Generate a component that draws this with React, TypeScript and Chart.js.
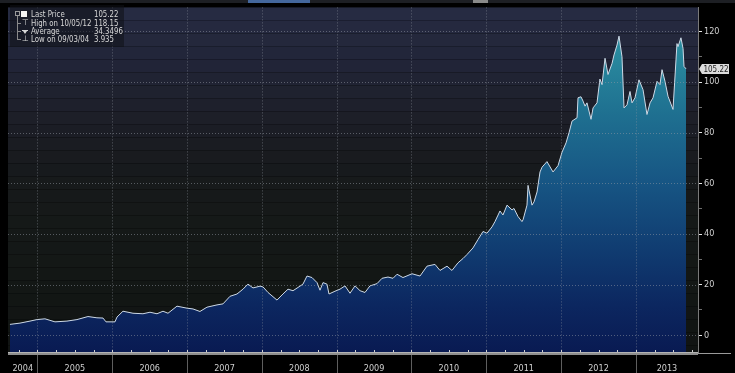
import { useEffect, useRef } from 'react';
import { Chart, registerables } from 'chart.js';

Chart.register(...registerables);

// ---- data (time in decimal years, price) ----
const times = [
  2004.632, 2004.766, 2004.900, 2004.993, 2005.100, 2005.167, 2005.234, 2005.394, 2005.528, 2005.675,
  2005.795, 2005.876, 2005.916, 2006.036, 2006.063, 2006.143, 2006.277, 2006.410, 2006.504, 2006.598,
  2006.678, 2006.745, 2006.865, 2006.999, 2007.079, 2007.172, 2007.266, 2007.400, 2007.480, 2007.574,
  2007.667, 2007.747, 2007.814, 2007.881, 2007.975, 2008.015, 2008.082, 2008.202, 2008.282, 2008.349,
  2008.416, 2008.483, 2008.549, 2008.603, 2008.670, 2008.737, 2008.777, 2008.817, 2008.870, 2008.897,
  2008.977, 2009.044, 2009.111, 2009.178, 2009.245, 2009.312, 2009.378, 2009.445, 2009.539, 2009.606,
  2009.686, 2009.753, 2009.807, 2009.886, 2010.007, 2010.114, 2010.207, 2010.314, 2010.381, 2010.475,
  2010.541, 2010.621, 2010.688, 2010.742, 2010.822, 2010.889, 2010.956, 2011.009, 2011.076, 2011.116,
  2011.183, 2011.223, 2011.277, 2011.344, 2011.370, 2011.424, 2011.477, 2011.491, 2011.544, 2011.558,
  2011.611, 2011.638, 2011.678, 2011.718, 2011.745, 2011.811, 2011.892, 2011.959, 2012.012, 2012.066,
  2012.106, 2012.146, 2012.213, 2012.226, 2012.266, 2012.293, 2012.320, 2012.346, 2012.400, 2012.427,
  2012.480, 2012.519, 2012.547, 2012.587, 2012.627, 2012.681, 2012.707, 2012.747, 2012.774, 2012.814,
  2012.841, 2012.881, 2012.921, 2012.948, 2012.988, 2013.041, 2013.095, 2013.148, 2013.189, 2013.229,
  2013.282, 2013.322, 2013.349, 2013.389, 2013.429, 2013.496, 2013.549, 2013.563, 2013.602, 2013.630,
  2013.643, 2013.670,
];
const prices = [
  4.3, 4.8, 5.6, 6.2, 6.5, 5.9, 5.3, 5.6, 6.2, 7.4,
  6.9, 6.8, 5.3, 5.3, 7.2, 9.5, 8.7, 8.5, 9.1, 8.5,
  9.5, 8.7, 11.5, 10.7, 10.4, 9.4, 11.1, 12.0, 12.4, 15.4,
  16.3, 18.2, 20.2, 18.7, 19.4, 19.1, 16.9, 13.9, 16.3, 18.2,
  17.6, 18.9, 20.2, 23.4, 22.8, 20.8, 17.8, 20.8, 20.2, 16.3,
  17.4, 18.2, 19.5, 16.6, 19.5, 17.6, 16.9, 19.5, 20.4, 22.5,
  23.0, 22.5, 24.1, 22.8, 24.3, 23.4, 27.3, 28.0, 25.6, 27.3,
  25.6, 28.6, 30.3, 31.9, 34.5, 37.8, 41.0, 40.3, 42.8, 44.9,
  49.1, 47.5, 51.4, 49.5, 50.1, 46.9, 44.9, 45.6, 51.4, 59.2,
  51.4, 52.7, 56.6, 64.5, 66.4, 68.6, 64.5, 67.0, 72.3, 76.0,
  80.0, 84.6, 85.9, 93.8, 94.2, 92.5, 90.5, 91.8, 85.3, 89.8,
  91.8, 101.2, 99.0, 109.4, 103.0, 107.4, 110.7, 114.6, 118.15, 110.0,
  89.8, 91.0, 96.3, 91.8, 93.8, 100.9, 97.0, 87.2, 91.8, 93.8,
  100.3, 99.0, 104.9, 100.3, 94.4, 89.2, 115.2, 114.0, 117.5, 113.3,
  106.2, 105.22,
];
const yearLabels = ['2004', '2005', '2006', '2007', '2008', '2009', '2010', '2011', '2012', '2013'];
const yTickValues = [0, 10, 20, 30, 40, 50, 60, 70, 80, 90, 100, 110, 120];
const gridValues = [0, 20, 40, 60, 80, 100, 120];
const legendLabels = ['Last Price', 'High on 10/05/12', 'Average', 'Low on 09/03/04'];
const legendValues = ['105.22', '118.15', '34.3496', '3.935'];
const lastPrice = 105.22;

const X_MIN = 2004.606;
const X_MAX = 2013.83;
const Y_MIN = -7;
const Y_MAX = 129.5;
const FIRST_YEAR = parseInt(yearLabels[0], 10);

const FONT = "'DejaVu Sans Condensed', 'DejaVu Sans', sans-serif";

const bgStops: [number, number[]][] = [
  [0, [38, 43, 66]],
  [0.16, [33, 36, 54]],
  [0.32, [28, 30, 38]],
  [0.46, [23, 26, 28]],
  [0.7, [20, 24, 22]],
  [1, [16, 19, 18]],
];
function bgAt(t: number) {
  for (let i = 1; i < bgStops.length; i++) {
    if (t <= bgStops[i][0]) {
      const [t0, c0] = bgStops[i - 1];
      const [t1, c1] = bgStops[i];
      const f = (t - t0) / (t1 - t0);
      return c0.map((v, k) => Math.round(v + (c1[k] - v) * f));
    }
  }
  return bgStops[bgStops.length - 1][1];
}

const backgroundPlugin = {
  id: 'bg',
  beforeDraw(chart: any) {
    const { ctx, chartArea: a, width, height } = chart;
    ctx.save();
    ctx.fillStyle = '#000';
    ctx.fillRect(0, 0, width, height);
    const band = 13;
    for (let y = a.top; y < a.bottom; y += band) {
      const t = (y - a.top) / (a.bottom - a.top);
      const c = bgAt(t);
      ctx.fillStyle = `rgb(${c[0]},${c[1]},${c[2]})`;
      ctx.fillRect(a.left, y, a.right - a.left, Math.min(band, a.bottom - y));
    }
    ctx.restore();
  },
};

const gridPlugin = {
  id: 'dottedGrid',
  afterDatasetsDraw(chart: any) {
    const { ctx, chartArea: a, scales } = chart;
    const xs = scales.x;
    const ys = scales.y;
    ctx.save();
    ctx.setLineDash([1, 2]);
    ctx.lineWidth = 1;
    ctx.strokeStyle = 'rgba(150,155,165,0.5)';
    gridValues.forEach((v) => {
      const y = Math.round(ys.getPixelForValue(v)) + 0.5;
      ctx.beginPath();
      ctx.moveTo(a.left, y);
      ctx.lineTo(a.right, y);
      ctx.stroke();
    });
    for (let i = 1; i < yearLabels.length; i++) {
      const x = Math.round(xs.getPixelForValue(FIRST_YEAR + i)) + 0.5;
      ctx.beginPath();
      ctx.moveTo(x, a.top);
      ctx.lineTo(x, a.bottom);
      ctx.stroke();
    }
    ctx.restore();
  },
};

const axisPlugin = {
  id: 'axisDeco',
  afterDraw(chart: any) {
    const { ctx, chartArea: a, scales, width, height } = chart;
    const xs = scales.x;
    const ys = scales.y;
    ctx.save();
    // year separators below the axis
    ctx.fillStyle = '#5e5e5e';
    for (let i = 1; i < yearLabels.length; i++) {
      const x = Math.round(xs.getPixelForValue(FIRST_YEAR + i));
      ctx.fillRect(x, a.bottom, 1, height - a.bottom);
    }
    // thick x axis line
    ctx.fillStyle = '#8e8e8e';
    ctx.fillRect(a.left, a.bottom - 1, a.right - a.left, 3);
    ctx.fillStyle = '#b4b4b4';
    ctx.fillRect(a.left, a.bottom - 1, a.right - a.left, 1);
    ctx.fillStyle = '#9a9a9a';
    ctx.fillRect(a.right, a.bottom, width - a.right - 4, 1);
    // quarter ticks
    ctx.fillStyle = '#d0d0d0';
    for (let yr = FIRST_YEAR; yr <= FIRST_YEAR + yearLabels.length; yr++) {
      for (let q = 0; q < 4; q++) {
        const v = yr + q / 4;
        if (v < X_MIN || v > X_MAX) continue;
        const x = Math.round(xs.getPixelForValue(v));
        ctx.fillRect(x, a.bottom - 3, 1, 2);
      }
    }
    // last price tag
    const py = Math.round(ys.getPixelForValue(lastPrice));
    ctx.fillStyle = '#dcdcdc';
    ctx.beginPath();
    ctx.moveTo(a.right + 1, py);
    ctx.lineTo(a.right + 4, py - 5);
    ctx.lineTo(a.right + 31, py - 5);
    ctx.lineTo(a.right + 31, py + 5);
    ctx.lineTo(a.right + 4, py + 5);
    ctx.closePath();
    ctx.fill();
    ctx.fillStyle = '#1a1a1a';
    ctx.font = `8px ${FONT}`;
    ctx.textAlign = 'center';
    ctx.textBaseline = 'middle';
    ctx.fillText(String(lastPrice), a.right + 18, py + 0.5);
    ctx.restore();
  },
};

export default function App() {
  const canvasRef = useRef<HTMLCanvasElement | null>(null);

  useEffect(() => {
    document.body.style.margin = '0';
    document.body.style.background = '#000';
    const canvas = canvasRef.current;
    if (!canvas) return;
    const points = times.map((t, i) => ({ x: t, y: prices[i] }));
    const chart = new Chart(canvas, {
      type: 'line',
      data: {
        datasets: [
          {
            data: points,
            borderColor: '#cdd9e6',
            borderWidth: 1,
            pointRadius: 0,
            tension: 0,
            fill: 'start',
            backgroundColor: (c: any) => {
              const a = c.chart.chartArea;
              if (!a) return 'rgba(0,0,0,0)';
              const g = c.chart.ctx.createLinearGradient(0, a.top, 0, a.bottom);
              g.addColorStop(0, '#3199a8');
              g.addColorStop(0.12, '#2a8b9f');
              g.addColorStop(0.3, '#1f7191');
              g.addColorStop(0.5, '#175684');
              g.addColorStop(0.7, '#103c71');
              g.addColorStop(0.86, '#0c2760');
              g.addColorStop(1, '#091a52');
              return g;
            },
          },
        ],
      },
      options: {
        responsive: false,
        maintainAspectRatio: false,
        animation: false,
        devicePixelRatio: 1,
        layout: { padding: { left: 8, top: 3, right: 0, bottom: 0 } },
        plugins: { legend: { display: false }, tooltip: { enabled: false } },
        scales: {
          x: {
            type: 'linear',
            min: X_MIN,
            max: X_MAX,
            afterBuildTicks: (s: any) => {
              s.ticks = yearLabels.map((_, i) => {
                const y0 = Math.max(X_MIN, FIRST_YEAR + i);
                const y1 = Math.min(X_MAX, FIRST_YEAR + i + 1);
                return { value: (y0 + y1) / 2 };
              });
            },
            afterFit: (s: any) => {
              s.height = 20;
            },
            grid: { display: false },
            border: { display: false },
            ticks: {
              color: '#cfcfcf',
              font: { family: FONT, size: 9 },
              padding: 2,
              maxRotation: 0,
              autoSkip: false,
              callback: (v: any) => yearLabels[Math.floor(Number(v)) - FIRST_YEAR] ?? '',
            },
          },
          y: {
            position: 'right',
            min: Y_MIN,
            max: Y_MAX,
            afterBuildTicks: (s: any) => {
              s.ticks = yTickValues.map((v) => ({ value: v }));
            },
            afterFit: (s: any) => {
              s.width = 37;
            },
            grid: {
              drawOnChartArea: false,
              drawTicks: true,
              tickLength: 4,
              color: 'rgba(0,0,0,0)',
              tickColor: (c: any) => (c.tick && c.tick.value % 20 === 0 ? '#e6e6e6' : '#6f6f6f'),
            },
            border: { display: true, color: '#7a7a7a', width: 1 },
            ticks: {
              color: '#cfcfcf',
              font: { family: FONT, size: 9 },
              padding: 2,
              autoSkip: false,
              callback: (v: any) => (Number(v) % 20 === 0 ? String(v) : ''),
            },
          },
        },
      },
      plugins: [backgroundPlugin, gridPlugin, axisPlugin],
    } as any);
    return () => chart.destroy();
  }, []);

  const rowCenters = [9, 17.7, 25.7, 34];
  const textColor = '#d8d8d8';
  const rowStyle = (top: number, left: number) => ({
    position: 'absolute' as const,
    left,
    top,
    height: 10,
    lineHeight: '10px',
    whiteSpace: 'nowrap' as const,
    transform: 'scaleX(0.82)',
    transformOrigin: 'left center',
  });

  return (
    <div style={{ position: 'relative', width: 735, height: 373, background: '#000', overflow: 'hidden' }}>
      <canvas ref={canvasRef} width={735} height={373} style={{ display: 'block', width: 735, height: 373 }} />
      {/* top toolbar strip */}
      <div style={{ position: 'absolute', left: 0, top: 0, width: 735, height: 3, background: '#1d1f24' }} />
      <div style={{ position: 'absolute', left: 248, top: 0, width: 62, height: 3, background: '#44679c' }} />
      <div style={{ position: 'absolute', left: 473, top: 0, width: 15, height: 3, background: '#8a8a8a' }} />
      {/* legend */}
      <div
        style={{
          position: 'absolute',
          left: 10,
          top: 5,
          width: 114,
          height: 42,
          background: 'rgba(14,16,22,0.55)',
          fontFamily: "'DejaVu Sans', sans-serif",
          fontSize: 8.5,
          color: textColor,
        }}
      >
        <div style={{ position: 'absolute', left: 5, top: 6, width: 3, height: 3, border: '1px solid #9a9a9a' }} />
        <div style={{ position: 'absolute', left: 7, top: 11, width: 1, height: 23, background: '#8a8a8a' }} />
        <div style={{ position: 'absolute', left: 11, top: 6, width: 6, height: 6, background: '#f4f4f4' }} />
        {[1, 2, 3].map((i) => (
          <div
            key={'br' + i}
            style={{ position: 'absolute', left: 7, top: Math.round(rowCenters[i]), width: 4, height: 1, background: '#8a8a8a' }}
          />
        ))}
        <div style={{ position: 'absolute', left: 12, top: rowCenters[1] - 5, height: 10, lineHeight: '10px', fontSize: 8 }}>⊤</div>
        <div style={{ position: 'absolute', left: 12, top: Math.round(rowCenters[2]) - 1, width: 6, height: 1, background: textColor }} />
        <div
          style={{
            position: 'absolute',
            left: 13,
            top: Math.round(rowCenters[2]),
            width: 0,
            height: 0,
            borderLeft: '2px solid transparent',
            borderRight: '2px solid transparent',
            borderTop: '3px solid ' + textColor,
          }}
        />
        <div style={{ position: 'absolute', left: 12, top: rowCenters[3] - 5, height: 10, lineHeight: '10px', fontSize: 8 }}>⊥</div>
        {legendLabels.map((lab, i) => (
          <div key={lab} style={rowStyle(rowCenters[i] - 5, 21)}>
            {lab}
          </div>
        ))}
        {legendValues.map((v, i) => (
          <div key={'v' + i} style={rowStyle(rowCenters[i] - 5, 84)}>
            {v}
          </div>
        ))}
      </div>
    </div>
  );
}
